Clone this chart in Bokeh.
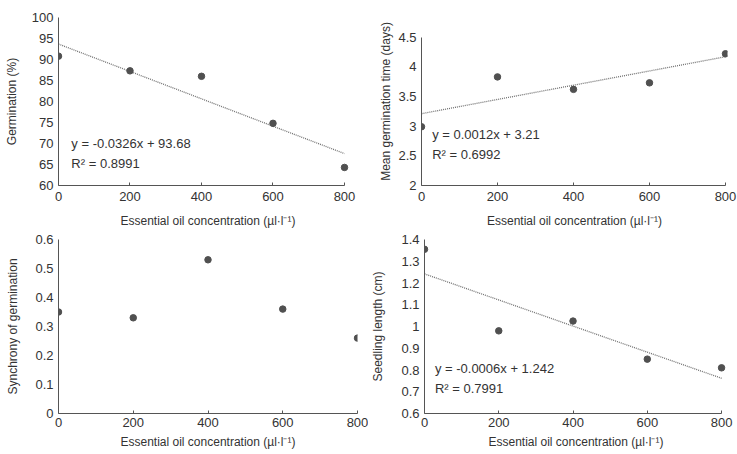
from bokeh.plotting import figure
from bokeh.layouts import row, column
from bokeh.models import Range1d, FixedTicker, Label
from bokeh.embed import file_html
from bokeh.resources import INLINE

# ---- data ----
conc = [0, 200, 400, 600, 800]
germination = [90.8, 87.3, 86.0, 74.8, 64.3]
mgt = [2.99, 3.83, 3.62, 3.73, 4.22]
synchrony = [0.35, 0.33, 0.53, 0.36, 0.26]
seedling = [1.355, 0.98, 1.025, 0.85, 0.81]

fit_germ = (-0.0326, 93.68)
fit_mgt = (0.0012, 3.21)
fit_seed = (-0.0006, 1.242)

eq_germ = ["y = -0.0326x + 93.68", "R² = 0.8991"]
eq_mgt = ["y = 0.0012x + 3.21", "R² = 0.6992"]
eq_seed = ["y = -0.0006x + 1.242", "R² = 0.7991"]

x_ticks = [0, 200, 400, 600, 800]
germ_ticks = [60, 65, 70, 75, 80, 85, 90, 95, 100]
mgt_ticks = [2, 2.5, 3, 3.5, 4, 4.5]
syn_ticks = [0, 0.1, 0.2, 0.3, 0.4, 0.5, 0.6]
seed_ticks = [0.6, 0.7, 0.8, 0.9, 1.0, 1.1, 1.2, 1.3, 1.4]

XLABEL = "Essential oil concentration (µl·l⁻¹)"
FONT = "Liberation Sans"
TXT = "#333333"
PT = "#505050"
AX = "#555555"


def make(width, height, bl, br, bt, bb, xr, yr, ybounds, yticks, ylabel, ys, fit, eqs, eqpos,
         x_standoff=5, xl_standoff=6, y_standoff=10, overrides=None):
    p = figure(width=width, height=height, output_backend="svg", toolbar_location=None,
               x_range=Range1d(*xr), y_range=Range1d(*yr),
               min_border_left=bl, min_border_right=br, min_border_top=bt, min_border_bottom=bb)
    p.outline_line_color = None
    p.grid.visible = False
    for ax in (p.xaxis[0], p.yaxis[0]):
        ax.axis_line_color = AX
        ax.axis_line_width = 1
        ax.minor_tick_line_color = None
        ax.major_label_text_font = FONT
        ax.major_label_text_font_size = "13px"
        ax.major_label_text_color = TXT
        ax.axis_label_text_font = FONT
        ax.axis_label_text_font_size = "12px"
        ax.axis_label_text_font_style = "normal"
        ax.axis_label_text_color = TXT
    p.xaxis.ticker = FixedTicker(ticks=x_ticks)
    p.xaxis.bounds = (0, 800)
    p.xaxis.major_tick_in = 3
    p.xaxis.major_tick_out = 0
    p.xaxis.major_tick_line_color = AX
    p.xaxis.axis_label = XLABEL
    p.xaxis.major_label_standoff = x_standoff
    p.xaxis.axis_label_standoff = xl_standoff
    p.yaxis.ticker = FixedTicker(ticks=yticks)
    p.yaxis.bounds = ybounds
    p.yaxis.major_tick_line_color = None
    p.yaxis.major_tick_in = 0
    p.yaxis.major_tick_out = 0
    p.yaxis.major_label_standoff = 5
    p.yaxis.axis_label = ylabel
    p.yaxis.axis_label_standoff = y_standoff
    if overrides:
        p.yaxis.major_label_overrides = overrides

    if fit is not None:
        xs = [0, 800]
        p.line(xs, [fit[1] + fit[0] * x for x in xs], line_color="#707070",
               line_width=1.3, line_dash="1 1")
    p.scatter(conc, ys, size=6.5, fill_color=PT, line_color=PT)
    if eqs:
        for t, (x, y) in zip(eqs, eqpos):
            p.add_layout(Label(x=x, y=y, text=t, text_font=FONT, text_font_size="13px",
                               text_color=TXT, text_baseline="middle", text_align="left"))
    return p


p1 = make(368, 230, 58, 11, 17, 42, (0, 836.4), (60, 100), (60, 100), germ_ticks,
          "Germination (%)", germination, fit_germ, eq_germ, [(36, 70.06), (36, 65.22)],
          x_standoff=6, xl_standoff=10, y_standoff=10)
p2 = make(369, 230, 53, 10, 17, 42, (0, 805.3), (2, 4.831), (2, 4.5), mgt_ticks,
          "Mean germination time (days)", mgt, fit_mgt, eq_mgt, [(28, 2.861), (28, 2.53)],
          x_standoff=6, xl_standoff=10, y_standoff=2, overrides={2: "2", 3: "3", 4: "4"})
p3 = make(368, 224, 58, 11, 9, 41, (0, 800), (0, 0.6), (0, 0.6), syn_ticks,
          "Synchrony of germination", synchrony, None, None, None,
          x_standoff=4, xl_standoff=5, y_standoff=12, overrides={0: "0"})
p4 = make(369, 224, 53, 10, 9, 41, (0, 816), (0.6, 1.4), (0.6, 1.4), seed_ticks,
          "Seedling length (cm)", seedling, fit_seed, eq_seed, [(28, 0.808), (28, 0.716)],
          x_standoff=4, xl_standoff=5, y_standoff=13, overrides={1.0: "1"})

layout = column(row(p1, p2), row(p3, p4))
open("out.html", "w").write(file_html(layout, INLINE))
